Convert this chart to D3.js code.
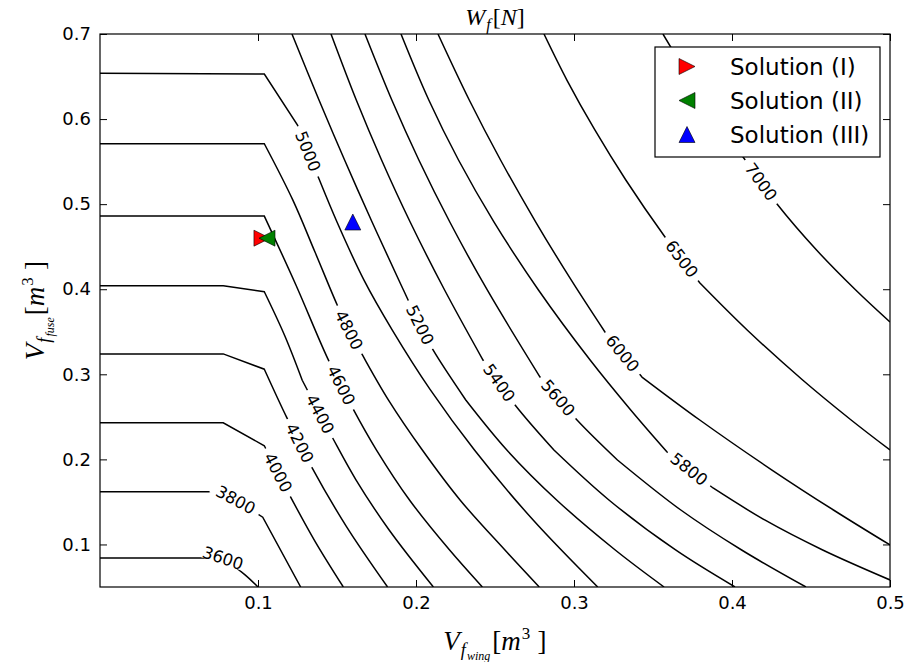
<!DOCTYPE html>
<html lang="en">
<head>
  <meta charset="UTF-8" />
  <title>W_f contour</title>
  <style>
    body { margin: 0; background: #fff; }
    svg { display: block; font-family: "DejaVu Sans", sans-serif; }
  </style>
</head>
<body>
  <div id="chart"></div>

  <script src="https://d3js.org/d3.v7.min.js"></script>
  <script>
    // contour levels of W_f [N]
    const levels = [3600, 3800, 4000, 4200, 4400, 4600, 4800, 5000, 5200, 5400, 5600, 5800, 6000, 6500, 7000];

    // each contour as [V_f_wing, V_f_fuse] points
    const c3600 = [[0, 0.084], [0.078, 0.084], [0.092, 0.064], [0.1, 0.05]];
    const c3800 = [[0, 0.162], [0.078, 0.162], [0.103, 0.132], [0.127, 0.05]];
    const c4000 = [[0, 0.243], [0.078, 0.243], [0.104, 0.216], [0.12, 0.158], [0.136, 0.104], [0.154, 0.05]];
    const c4200 = [[0, 0.324], [0.078, 0.324], [0.104, 0.306], [0.118, 0.25], [0.134, 0.191], [0.156, 0.121], [0.182, 0.05]];
    const c4400 = [[0, 0.404], [0.078, 0.404], [0.104, 0.397], [0.117, 0.345], [0.128, 0.293], [0.147, 0.226], [0.162, 0.176], [0.183, 0.117], [0.211, 0.05]];
    const c4600 = [[0, 0.486], [0.104, 0.486], [0.124, 0.405], [0.144, 0.319], [0.160, 0.260], [0.175, 0.211], [0.196, 0.152], [0.221, 0.094], [0.242, 0.05]];
    const c4800 = [[0, 0.571], [0.104, 0.571], [0.122, 0.505], [0.136, 0.444], [0.150, 0.382], [0.1575, 0.352], [0.166, 0.323], [0.1825, 0.270], [0.204, 0.211], [0.228, 0.152], [0.256, 0.094], [0.278, 0.05]];
    const c5000 = [[0, 0.654], [0.104, 0.653], [0.125, 0.593], [0.137, 0.537], [0.150, 0.479], [0.167, 0.411], [0.185, 0.352], [0.209, 0.282], [0.237, 0.211], [0.274, 0.129], [0.315, 0.05]];
    const c5200 = [[0.1215, 0.7], [0.1386, 0.6224], [0.1548, 0.5519], [0.1722, 0.479], [0.1891, 0.4109], [0.2025, 0.358], [0.2108, 0.3286], [0.2315, 0.2698], [0.2575, 0.211], [0.289, 0.1523], [0.3261, 0.0935], [0.357, 0.05]];
    const c5400 = [[0.1462, 0.7], [0.1622, 0.6224], [0.1782, 0.5519], [0.1963, 0.479], [0.2181, 0.3991], [0.2424, 0.3168], [0.2627, 0.2639], [0.2873, 0.211], [0.3221, 0.1523], [0.3643, 0.0935], [0.4019, 0.05]];
    const c5600 = [[0.1677, 0.7], [0.1847, 0.6224], [0.2018, 0.5519], [0.2214, 0.479], [0.2451, 0.3991], [0.2785, 0.2968], [0.3019, 0.2463], [0.3275, 0.1993], [0.3676, 0.1405], [0.4061, 0.0935], [0.4468, 0.05]];
    const c5800 = [[0.1905, 0.7], [0.2081, 0.6224], [0.2269, 0.5519], [0.2494, 0.479], [0.2775, 0.3991], [0.3102, 0.3168], [0.3359, 0.2581], [0.3589, 0.2087], [0.388, 0.1664], [0.4207, 0.1288], [0.4574, 0.0935], [0.5, 0.0583]];
    const c6000 = [[0.2139, 0.7], [0.2337, 0.6224], [0.2535, 0.5519], [0.2758, 0.479], [0.2982, 0.4109], [0.3196, 0.3497], [0.343, 0.2968], [0.3796, 0.2463], [0.4253, 0.1875], [0.4642, 0.1405], [0.5, 0.0994]];
    const c6500 = [[0.281, 0.7], [0.2955, 0.6459], [0.3132, 0.5872], [0.3328, 0.5284], [0.3576, 0.4614], [0.3797, 0.4073], [0.4096, 0.3521], [0.4447, 0.2933], [0.4754, 0.2463], [0.5, 0.211]];
    const c7000 = [[0.3563, 0.7], [0.374, 0.6459], [0.3906, 0.5989], [0.407, 0.5554], [0.4285, 0.5002], [0.4535, 0.4461], [0.4783, 0.3991], [0.5, 0.3615]];
    const contourPaths = [c3600, c3800, c4000, c4200, c4400, c4600, c4800, c5000, c5200, c5400, c5600, c5800, c6000, c6500, c7000];

    // centre of each inline level label
    const labelAt = [[0.0778, 0.0853], [0.0867, 0.1546], [0.1133, 0.1852], [0.1266, 0.2193], [0.1405, 0.2545], [0.1532, 0.2875], [0.1576, 0.3521],
      [0.1323, 0.5625], [0.2025, 0.358], [0.2525, 0.2898], [0.2899, 0.2722], [0.3734, 0.1899], [0.331, 0.3251], [0.369, 0.4367], [0.419, 0.5272]];

    const xTicks = [0.1, 0.2, 0.3, 0.4, 0.5];
    const yTicks = [0.1, 0.2, 0.3, 0.4, 0.5, 0.6, 0.7];

    const solutionNames = ["Solution (I)", "Solution (II)", "Solution (III)"];
    const solutionX = [0.1025, 0.1057, 0.160];
    const solutionY = [0.460, 0.460, 0.479];

    // styling
    const solutionColors = ["#ff0000", "#008000", "#0000ff"];
    const solutionTurn = [90, -90, 0];
    const mathFont = "'Liberation Serif', 'DejaVu Serif', serif";
    const labelSize = 16.5;

    const W = 906, H = 662;
    const svg = d3.select("#chart").append("svg").attr("width", W).attr("height", H);
    const x = d3.scaleLinear().domain([0, 0.5]).range([100, 890]);
    const y = d3.scaleLinear().domain([0.05, 0.7]).range([587, 34]);

    svg.append("clipPath").attr("id", "plotClip")
      .append("rect").attr("x", x(0)).attr("y", y(0.7))
      .attr("width", x(0.5) - x(0)).attr("height", y(0.05) - y(0.7));

    const plot = svg.append("g").attr("clip-path", "url(#plotClip)");

    // keep real corners sharp (doubled vertex), smooth everything else
    function withCorners(px) {
      const out = [px[0]];
      for (let i = 1; i < px.length - 1; i++) {
        const a1 = Math.atan2(px[i][1] - px[i - 1][1], px[i][0] - px[i - 1][0]);
        const a2 = Math.atan2(px[i + 1][1] - px[i][1], px[i + 1][0] - px[i][0]);
        out.push(px[i]);
        if (Math.abs(a2 - a1) * 180 / Math.PI > 6) out.push(px[i]);
      }
      out.push(px[px.length - 1]);
      return out;
    }

    const line = d3.line().curve(d3.curveCatmullRom.alpha(0.5));
    const pixelPaths = contourPaths.map(pts => pts.map(d => [x(d[0]), y(d[1])]));

    plot.selectAll("path.contour")
      .data(pixelPaths)
      .enter()
      .append("path")
      .attr("class", "contour")
      .attr("d", d => line(withCorners(d)))
      .attr("fill", "none")
      .attr("stroke", "#000")
      .attr("stroke-width", 1.5);

    // point at arc length s along a polyline
    function along(px, cum, s) {
      s = Math.max(0, Math.min(cum[cum.length - 1], s));
      let i = 1;
      while (i < cum.length - 1 && cum[i] < s) i++;
      const t = (s - cum[i - 1]) / (cum[i] - cum[i - 1] || 1);
      return [px[i - 1][0] + t * (px[i][0] - px[i - 1][0]), px[i - 1][1] + t * (px[i][1] - px[i - 1][1])];
    }

    levels.forEach((lev, i) => {
      const px = pixelPaths[i];
      const cum = [0];
      for (let k = 1; k < px.length; k++) cum.push(cum[k - 1] + Math.hypot(px[k][0] - px[k - 1][0], px[k][1] - px[k - 1][1]));
      const p = [x(labelAt[i][0]), y(labelAt[i][1])];
      let best = null;
      for (let k = 0; k < px.length - 1; k++) {
        const a = px[k], b = px[k + 1];
        const dx = b[0] - a[0], dy = b[1] - a[1];
        const seg = Math.hypot(dx, dy);
        let t = ((p[0] - a[0]) * dx + (p[1] - a[1]) * dy) / (seg * seg);
        t = Math.max(0, Math.min(1, t));
        const q = [a[0] + t * dx, a[1] + t * dy];
        const dist = Math.hypot(p[0] - q[0], p[1] - q[1]);
        if (!best || dist < best.dist) best = { dist, s: cum[k] + t * seg };
      }
      const g = plot.append("g");
      const gap = g.append("rect").attr("fill", "#fff");
      const txt = g.append("text")
        .attr("text-anchor", "middle")
        .attr("dy", "0.35em")
        .attr("font-size", labelSize)
        .attr("fill", "#000")
        .text(lev);
      const len = txt.node().getComputedTextLength();
      const p0 = along(px, cum, best.s - len / 2), p1 = along(px, cum, best.s + len / 2);
      const c = along(px, cum, best.s);
      let ang = Math.atan2(p1[1] - p0[1], p1[0] - p0[0]) * 180 / Math.PI;
      if (ang > 90) ang -= 180;
      if (ang < -90) ang += 180;
      g.attr("transform", `translate(${c[0]},${c[1]}) rotate(${ang})`);
      gap.attr("x", -len / 2 - 6).attr("y", -6).attr("width", len + 12).attr("height", 12);
    });

    // solution markers
    const tri = {
      draw(ctx, size) {
        const r = Math.sqrt(size) / 2;
        ctx.moveTo(0, -r);
        ctx.lineTo(r, r);
        ctx.lineTo(-r, r);
        ctx.closePath();
      }
    };
    const marker = d3.symbol(tri, 256);

    svg.selectAll("path.solution")
      .data(solutionNames)
      .enter()
      .append("path")
      .attr("class", "solution")
      .attr("d", marker)
      .attr("transform", (d, i) => `translate(${x(solutionX[i])},${y(solutionY[i])}) rotate(${solutionTurn[i]})`)
      .attr("fill", (d, i) => solutionColors[i])
      .attr("stroke", "#000")
      .attr("stroke-width", 0.6);

    // frame and inward ticks on all sides
    svg.append("rect")
      .attr("x", x(0)).attr("y", y(0.7))
      .attr("width", x(0.5) - x(0)).attr("height", y(0.05) - y(0.7))
      .attr("fill", "none").attr("stroke", "#000").attr("stroke-width", 1.2);

    const fmt = d3.format(".1f");
    const axes = [
      [d3.axisBottom(x).tickValues(xTicks).tickFormat(fmt), `translate(0,${y(0.05)})`],
      [d3.axisTop(x).tickValues(xTicks).tickFormat(""), `translate(0,${y(0.7)})`],
      [d3.axisLeft(y).tickValues(yTicks).tickFormat(fmt), `translate(${x(0)},0)`],
      [d3.axisRight(y).tickValues(yTicks).tickFormat(""), `translate(${x(0.5)},0)`]
    ];
    axes.forEach(([ax, tr]) => {
      const g = svg.append("g").attr("transform", tr)
        .call(ax.tickSize(-7).tickPadding(9));
      g.select(".domain").remove();
      g.selectAll("line").attr("stroke", "#000");
      g.selectAll("text")
        .attr("font-family", "'DejaVu Sans', sans-serif")
        .attr("font-size", 18)
        .attr("fill", "#000");
    });

    // math-style text in pieces
    function mathText(parent, parts, size) {
      const t = parent.append("text")
        .attr("font-family", mathFont)
        .attr("font-size", size)
        .attr("fill", "#000");
      parts.forEach(p => {
        t.append("tspan")
          .attr("font-style", p.it ? "italic" : "normal")
          .attr("font-size", p.s || size)
          .attr("dx", p.dx || 0)
          .attr("dy", p.dy || 0)
          .text(p.t);
      });
      return t;
    }

    mathText(svg, [
      { t: "W", it: 1 }, { t: "f", it: 1, s: 16, dx: 1, dy: 5 }, { t: "[", dx: 2, dy: -5 }, { t: "N", it: 1 }, { t: "]" }
    ], 24).attr("x", (x(0) + x(0.5)) / 2).attr("y", 25).attr("text-anchor", "middle");

    const axisLabelParts = sub => [
      { t: "V", it: 1 }, { t: "f", it: 1, s: 18, dx: 1, dy: 6 }, { t: sub, it: 1, s: 12, dx: 1, dy: 4 },
      { t: "[", dx: 2, dy: -10 }, { t: "m", it: 1 }, { t: "3", s: 17, dx: 1, dy: -11 }, { t: "\u2009]", dx: 2, dy: 11 }
    ];

    mathText(svg, axisLabelParts("wing"), 27)
      .attr("x", (x(0) + x(0.5)) / 2).attr("y", 650).attr("text-anchor", "middle");

    mathText(svg, axisLabelParts("fuse"), 27)
      .attr("text-anchor", "middle")
      .attr("transform", `translate(44,${(y(0.05) + y(0.7)) / 2}) rotate(-90)`);

    // legend
    const legend = svg.append("g");
    legend.append("rect")
      .attr("x", 655).attr("y", 47).attr("width", 225).attr("height", 110)
      .attr("fill", "#fff").attr("stroke", "#000").attr("stroke-width", 1.2);
    solutionNames.forEach((name, i) => {
      const cy = 66.5 + i * 34;
      legend.append("path")
        .attr("d", marker)
        .attr("transform", `translate(687,${cy}) rotate(${solutionTurn[i]})`)
        .attr("fill", solutionColors[i])
        .attr("stroke", "#000")
        .attr("stroke-width", 0.6);
      legend.append("text")
        .attr("x", 730).attr("y", cy + 8.5)
        .attr("font-size", 23)
        .attr("fill", "#000")
        .text(name);
    });
  </script>
</body>
</html>
